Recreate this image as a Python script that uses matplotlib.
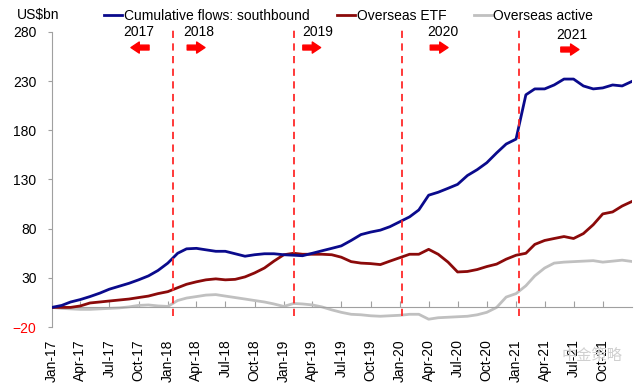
import numpy as np
import pandas as pd
import matplotlib
matplotlib.use("Agg")
import matplotlib.pyplot as plt
import matplotlib.dates as mdates

plt.rcParams['font.family'] = ['Liberation Sans', 'DejaVu Sans']

# --- data (US$bn, month starts Jan-17 .. Dec-21, plus last point) ---
dates = list(pd.date_range("2017-01-01", "2021-12-01", freq="MS")) + [pd.Timestamp("2021-12-31")]

southbound = [0, 2, 5.5, 8, 11, 14.5, 18.5, 21.5, 24.5, 28, 32, 37.5,
              45, 55, 59.5, 60, 58.5, 57, 57, 54.5, 52, 53.5, 54.5, 54.5,
              53.5, 53, 52.5, 55, 57.5, 60, 62.5, 68, 74, 76.5, 78.5, 82,
              87, 92, 99, 114, 117, 121, 125, 134, 140, 147, 157, 166,
              171, 216, 222, 222, 226, 232, 232, 225, 222, 223, 226, 225,
              229.5]
etf = [0, 0, 0, 1.5, 4.5, 5.5, 6.5, 7.5, 8.5, 10, 11.5, 14,
       16, 20, 23.5, 26, 28, 29, 28, 28.5, 31, 35, 40, 47,
       53.5, 55, 54, 54, 54, 53.5, 51, 46.5, 45, 44.5, 43.5, 47,
       50.5, 54, 54, 59, 54, 46, 36, 36.5, 38.5, 41.5, 44, 49,
       53, 55, 64, 68, 70, 72, 70, 75, 84, 95, 97, 103,
       107.5]
active = [0, -1, -1.5, -2, -2, -1.5, -1, -0.5, 0.5, 2, 2.5, 1.5,
          1, 7, 9.5, 11, 12.5, 13, 11.5, 10, 8.5, 7, 5.5, 3.5,
          1, 4, 3.5, 2.5, 0.5, -2.5, -5, -7, -7.5, -8.5, -9, -8.5,
          -8, -7, -7, -12, -10.5, -10, -9.5, -9, -7.5, -5, 0, 10.5,
          14, 22, 32, 40, 45, 46, 46.5, 47, 47.5, 46, 47, 48,
          46.7]

year_lines = pd.to_datetime(["2018-01-17", "2019-02-01", "2020-01-08", "2021-01-11"])
year_labels = ["2017", "2018", "2019", "2020", "2021"]
year_label_dates = pd.to_datetime(["2017-09-30", "2018-04-08", "2019-04-17", "2020-05-15", "2021-06-25"])
arrow_from = pd.to_datetime(["2017-11-03", "2018-03-03", "2019-03-02", "2020-04-06", "2021-05-22"])
arrow_to = pd.to_datetime(["2017-09-07", "2018-04-28", "2019-04-27", "2020-06-01", "2021-07-18"])

fig = plt.figure(figsize=(6.4, 3.88), dpi=100)
ax = fig.add_axes([0.081, 0.157, 0.906, 0.761])

ax.plot(dates, active, color="#c0c0c0", lw=2.0, label="Overseas active", zorder=2)
ax.plot(dates, etf, color="#8b0a0a", lw=2.0, label="Overseas ETF", zorder=3)
ax.plot(dates, southbound, color="#0a0a8c", lw=2.0, label="Cumulative flows: southbound", zorder=4)

ax.vlines(year_lines, -9, 284, colors="#ff2a2a", linestyles=(0, (4, 3)), lw=1.3, clip_on=False, zorder=5)

for i, lab in enumerate(year_labels):
    yt = 277 if lab == "2021" else 280
    ya = 262 if lab == "2021" else 264
    ax.text(year_label_dates[i], yt, lab, ha="center", va="center", fontsize=10, clip_on=False)
    ax.annotate("", xy=(arrow_to[i], ya), xytext=(arrow_from[i], ya),
                arrowprops=dict(arrowstyle="simple,head_length=0.6,head_width=0.8,tail_width=0.35",
                                color="red", shrinkA=0, shrinkB=0, mutation_scale=10),
                annotation_clip=False)

ax.set_ylim(-20, 280)
ax.set_xlim(pd.Timestamp("2017-01-01"), pd.Timestamp("2021-12-31"))
ax.set_yticks(np.arange(-20, 281, 50))
ax.xaxis.set_major_locator(mdates.MonthLocator(bymonth=[1, 4, 7, 10]))
ax.xaxis.set_major_formatter(mdates.DateFormatter("%b-%y"))

for s in ["top", "right"]:
    ax.spines[s].set_visible(False)
ax.spines["left"].set_color("#a0a0a0")
ax.spines["bottom"].set_color("#a0a0a0")
ax.spines["bottom"].set_position(("data", 0))
ax.tick_params(axis="y", length=3, color="#a0a0a0", labelsize=10, pad=8)
ax.tick_params(axis="x", direction="in", length=4, color="#a0a0a0", labelsize=10, pad=23, labelrotation=90)
for t in ax.get_yticklabels():
    if t.get_text().replace("\u2212", "-") == "-20":
        t.set_color("red")

fig.text(0.027, 0.961, "US$bn", fontsize=10, va="center")
handles, labels = ax.get_legend_handles_labels()
order = [2, 1, 0]
fig.legend([handles[i] for i in order], [labels[i] for i in order], loc="center",
           bbox_to_anchor=(0.545, 0.959), ncol=3, frameon=False, fontsize=10,
           handlelength=1.3, handletextpad=0.1, columnspacing=2.0)

fig.text(0.925, 0.085, "中金策略", fontsize=11, color="#d0d0d0", ha="center", va="center",
         family=["Noto Sans CJK SC", "DejaVu Sans"])

fig.savefig("out.png", dpi=100)
